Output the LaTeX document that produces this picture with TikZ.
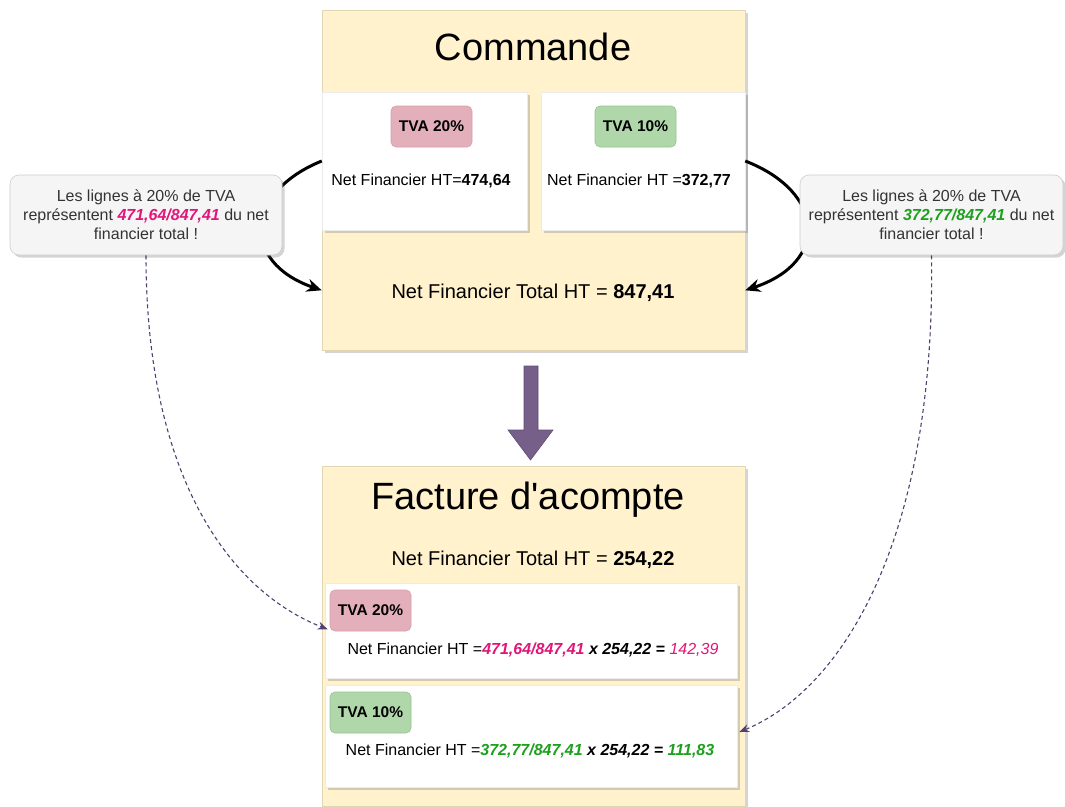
\documentclass[tikz,border=0pt]{standalone}
\usepackage{fontspec}
\setmainfont{Liberation Sans}
\usetikzlibrary{shadows,arrows.meta,calc}
\definecolor{cmdyellow}{RGB}{255,242,204}
\definecolor{cmdborder}{RGB}{226,214,178}
\definecolor{pinkbadge}{RGB}{226,175,186}
\definecolor{pinkborder}{RGB}{214,160,172}
\definecolor{greenbadge}{RGB}{176,215,170}
\definecolor{greenborder}{RGB}{150,196,144}
\definecolor{calfill}{RGB}{245,245,245}
\definecolor{calborder}{RGB}{205,205,205}
\definecolor{arrowpurple}{RGB}{118,96,138}
\definecolor{arrowpurpleborder}{RGB}{96,76,116}
\definecolor{dashpurple}{RGB}{80,64,112}
\definecolor{magtxt}{RGB}{224,22,122}
\definecolor{greentxt}{RGB}{30,160,30}
\definecolor{caltxt}{RGB}{51,51,51}
\begin{document}
\begin{tikzpicture}[x=1pt,y=-1pt,
  shadowed/.style={drop shadow={shadow xshift=2.5pt,shadow yshift=-2.5pt,opacity=.28,fill=black!60}},
  bigbox/.style={shadowed,fill=cmdyellow,draw=cmdborder,line width=.6pt,minimum width=423pt,minimum height=340pt,inner sep=0pt},
  whitebox/.style={shadowed,fill=white,draw=black!8,line width=.5pt,inner sep=0pt},
  badge/.style={rounded corners=5pt,minimum width=81pt,minimum height=41pt,inner sep=0pt,line width=.6pt,font=\fontsize{15.5}{18}\selectfont\bfseries},
  pinkb/.style={badge,fill=pinkbadge,draw=pinkborder},
  greenb/.style={badge,fill=greenbadge,draw=greenborder},
  smalltxt/.style={font=\fontsize{16}{19}\selectfont,inner sep=0pt},
  titletxt/.style={font=\fontsize{38}{44}\selectfont,inner sep=0pt},
  totaltxt/.style={font=\fontsize{20}{24}\selectfont,inner sep=0pt},
  calloutbox/.style={shadowed,fill=calfill,draw=calborder,line width=.6pt,rounded corners=9pt,minimum height=80pt,inner sep=0pt,align=center,text=caltxt,font=\fontsize{16}{19}\selectfont},
  curvearrow/.style={line width=3pt,black,-{Stealth[length=15pt,width=13pt]}},
  dasharrow/.style={line width=1.1pt,dashpurple,dash pattern=on 4pt off 3pt,-{Stealth[length=10pt,width=8pt]}}
]
\useasboundingbox (0,0) rectangle (1065,806);
\clip (0,0) rectangle (1065,806);
\fill[white] (0,0) rectangle (1065,806);

% Commande
\node[bigbox] (cmd) at (533.5,180) {};
\node[titletxt] (cmdtitle) at (533,47) {Commande};
\node[whitebox,minimum width=205pt,minimum height=138pt] (c20) at (424.5,161) {};
\node[whitebox,minimum width=204pt,minimum height=138pt] (c10) at (643,161) {};
\node[pinkb] (b20) at (431.5,126.5) {TVA 20\%};
\node[greenb] (b10) at (635.5,126.5) {TVA 10\%};
\node[smalltxt] (n20) at (421,181) {Net Financier HT=\textbf{474,64}};
\node[smalltxt] (n10) at (639,181) {Net Financier HT =\textbf{372,77}};
\node[totaltxt] (cmdtotal) at (533,293) {Net Financier Total HT = \textbf{847,41}};
\coordinate (cmdL) at ($(cmd.south west)+(0,-60)$);
\coordinate (cmdR) at ($(cmd.south east)+(0,-60)$);

% curved arrows (behind callouts)
\draw[curvearrow] (c20.west) .. controls (245,192) and (240,262) .. (cmdL);
\draw[curvearrow] (c10.east) .. controls (825,192) and (830,262) .. (cmdR);

% callouts
\node[calloutbox,minimum width=272pt] (calL) at (146,215)
  {Les lignes à 20\% de TVA\\représentent \textcolor{magtxt}{\textbf{\textit{471,64/847,41}}} du net\\financier total !};
\node[calloutbox,minimum width=263pt] (calR) at (931.5,215)
  {Les lignes à 20\% de TVA\\représentent \textcolor{greentxt}{\textbf{\textit{372,77/847,41}}} du net\\financier total !};

% big arrow
\filldraw[fill=arrowpurple,draw=arrowpurpleborder,line width=.6pt]
  (524,366) -- (538,366) -- (538,430) -- (553,430) -- (530.5,460) -- (508,430) -- (524,430) -- cycle;

% Facture
\node[bigbox] (fac) at (533.5,636) {};
\node[titletxt] (factitle) at (528,500) {Facture d\textquotesingle acompte};
\node[totaltxt] (factotal) at (533,560) {Net Financier Total HT = \textbf{254,22}};
\node[whitebox,minimum width=412pt,minimum height=95pt] (f1) at (531,630.5) {};
\node[whitebox,minimum width=412pt,minimum height=102pt] (f2) at (531,736) {};
\node[pinkb] (fb20) at (370.5,610.5) {TVA 20\%};
\node[greenb] (fb10) at (370.5,712.5) {TVA 10\%};
\node[smalltxt] (fn20) at (533,650) {Net Financier HT =\textcolor{magtxt}{\textbf{\textit{471,64/847,41}}} \textbf{\textit{x 254,22 =}} \textcolor{magtxt}{\textit{142,39}}};
\node[smalltxt] (fn10) at (530,751) {Net Financier HT =\textcolor{greentxt}{\textbf{\textit{372,77/847,41}}} \textbf{\textit{x 254,22 =}} \textcolor{greentxt}{\textbf{\textit{111,83}}}};

% dashed arrows
\draw[dasharrow] (calL.south) .. controls (146,480) and (232,592) .. ($(fb20.south west)+(-2,-2)$);
\draw[dasharrow] (calR.south) .. controls (936,540) and (842,690) .. ($(f2.east)+(2,-4)$);
\end{tikzpicture}
\end{document}
